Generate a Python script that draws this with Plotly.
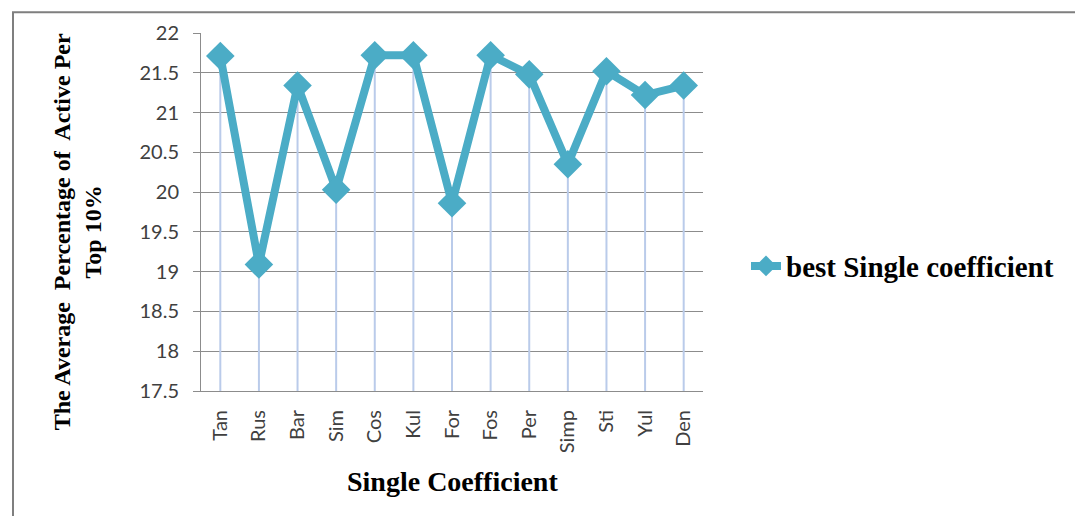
import plotly.graph_objects as go

categories = ["Tan", "Rus", "Bar", "Sim", "Cos", "Kul", "For", "Fos", "Per", "Simp", "Sti", "Yul", "Den"]
values = [21.71, 19.09, 21.34, 20.03, 21.72, 21.72, 19.86, 21.72, 21.48, 20.35, 21.52, 21.22, 21.34]
series_name = "best Single coefficient"
y_ticks = [17.5, 18, 18.5, 19, 19.5, 20, 20.5, 21, 21.5, 22]
y_min = 17.5

# page body has an 8px margin, so the figure starts at (8, 8) in the window
OFF = 8
W, H = 1083 - OFF, 516 - OFF
PL, PR, PT, PB = 201, 703, 30, 391          # plot area in window pixels
pw, ph = PR - PL, PB - PT
L, T = PL - OFF, PT - OFF
R, B = W - L - pw, H - T - ph

def px_x(x):
    return (x - PL) / pw

def px_y(y):
    return (PB - y) / ph

line_color = "#4BACC6"
drop_color = "#BACBEA"
serif = "Liberation Serif"
sans = "Lato"

fig = go.Figure()

# drop lines from each point to the axis floor
fig.add_trace(go.Scatter(
    x=categories, y=values, mode="markers",
    marker=dict(size=1, color="rgba(0,0,0,0)"),
    error_y=dict(type="data", symmetric=False,
                 array=[0] * len(values),
                 arrayminus=[v - y_min for v in values],
                 color=drop_color, thickness=2, width=0),
    showlegend=False, hoverinfo="skip",
))

fig.add_trace(go.Scatter(
    x=categories, y=values, mode="lines+markers", name=f"<b>{series_name}</b>",
    line=dict(color=line_color, width=8),
    marker=dict(symbol="diamond", size=22, color=line_color),
))

fig.update_layout(
    width=W, height=H,
    margin=dict(l=L, r=R, t=T, b=B),
    paper_bgcolor="white", plot_bgcolor="white",
    showlegend=True,
    legend=dict(x=px_x(746), y=px_y(265), xanchor="left", yanchor="middle",
                font=dict(family=serif, size=29, color="black"),
                bgcolor="rgba(0,0,0,0)"),
    xaxis=dict(type="category", categoryorder="array", categoryarray=categories,
               range=[-0.5, len(categories) - 0.5],
               showgrid=False, showline=True, linecolor="#8C8C8C", linewidth=1,
               ticks="", tickangle=-90, ticklabelstandoff=10,
               tickfont=dict(family=sans, size=20, color="#404040"),
               zeroline=False),
    yaxis=dict(range=[17.5, 22], tickvals=y_ticks, ticktext=[f"{v:g}" for v in y_ticks],
               showgrid=True, gridcolor="#8C8C8C", gridwidth=1,
               showline=True, linecolor="#8C8C8C", linewidth=1,
               ticks="outside", ticklen=7, tickcolor="#8C8C8C", ticklabelstandoff=10,
               tickfont=dict(family=sans, size=20, color="#404040"),
               zeroline=False),
    annotations=[
        dict(text="<b>The Average  Percentage of  Active Per<br>Top 10%</b>",
             xref="paper", yref="paper", x=px_x(77), y=px_y(231),
             xanchor="center", yanchor="middle", textangle=-90, showarrow=False,
             font=dict(family=serif, size=24, color="black")),
        dict(text="<b>Single Coefficient</b>",
             xref="paper", yref="paper", x=px_x(452), y=px_y(482),
             xanchor="center", yanchor="middle", showarrow=False,
             font=dict(family=serif, size=28, color="black")),
    ],
    shapes=[
        dict(type="rect", xref="paper", yref="paper",
             x0=px_x(13), x1=px_x(1100), y0=px_y(540), y1=px_y(9),
             line=dict(color="#7F7F7F", width=2), fillcolor="rgba(0,0,0,0)", layer="below"),
    ],
)

fig.write_html("out.html")
